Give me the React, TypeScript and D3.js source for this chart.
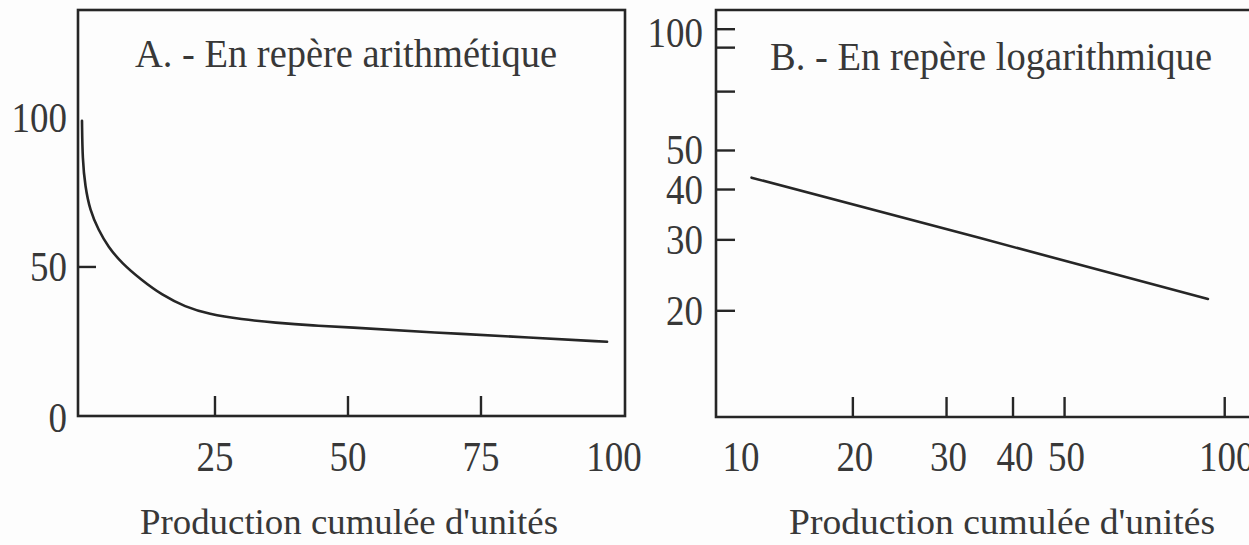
import React from 'react';
import * as d3 from 'd3';

const W = 1249;
const H = 545;

// ---- Panel A (arithmetic scale) ----
const curveAX = [0, 0.1, 0.6, 1.5, 3.1, 4.9, 7.5, 11.2, 15, 19.4, 23.8, 30, 36.2, 43.8, 49.1, 66, 84.8, 98.7];
const curveAY = [99, 86, 77, 69, 62.4, 56.8, 51.2, 45.6, 40.6, 36.6, 34.2, 32.4, 31.3, 30.3, 29.9, 28, 26.3, 24.9];
const xTicksA = [25, 50, 75];
const xLabelsA = [25, 50, 75, 100];
const yTicksA = [50];
const yLabelsA = [0, 50, 100];
const titleA = 'A. - En repère arithmétique';

// ---- Panel B (logarithmic scale) ----
const curveBX = [12.9, 34.7, 93];
const curveBY = [42.8, 30.3, 21.4];
const xTicksB = [20, 30, 40, 50, 100];
const xOriginLabelB = '10';
const yTicksB = [100, 90, 70, 50, 40, 30, 20];
const yLabelsB = [100, 50, 40, 30, 20];
const titleB = 'B. - En repère logarithmique';

const xTitle = "Production cumulée d'unités";

const FONT = '"Liberation Serif", "DejaVu Serif", serif';
const INK = '#262626';
const TXT = '#383838';

export default function App() {
  // Panel A scales
  const xA = d3.scaleLinear().domain([-0.75, 102.07]).range([78, 625]);
  const yA = d3.scaleLinear().domain([0, 136.2]).range([416, 10]);
  // Panel B scales
  const xB = d3.scaleLog().domain([11.06, 116.5]).range([716, 1260]);
  const yB = d3.scaleLog().domain([10.9, 111.6]).range([417, 10]);

  const ptsA = curveAX.map((x, i) => [x, curveAY[i]] as [number, number]);
  const ptsB = curveBX.map((x, i) => [x, curveBY[i]] as [number, number]);

  const lineA = d3.line<[number, number]>()
    .x(d => xA(d[0]))
    .y(d => yA(d[1]))
    .curve(d3.curveBasis);
  const lineB = d3.line<[number, number]>()
    .x(d => xB(d[0]))
    .y(d => yB(d[1]));

  const [ax0, ax1] = xA.range();
  const [ay0, ay1] = yA.range();
  const [bx0, bx1] = xB.range();
  const [by0, by1] = yB.range();

  const tickLen = 20;
  const labelStyle = { fontFamily: FONT, fontSize: 43, fill: TXT } as const;
  const sx = 0.86;

  return (
    <svg width={W} height={H} style={{ position: 'absolute', left: 0, top: 0, background: '#fdfdfd' }}>
      <rect x={0} y={0} width={W} height={H} fill="#fdfdfd" />

      {/* Panel A frame */}
      <rect x={ax0} y={ay1} width={ax1 - ax0} height={ay0 - ay1} fill="none" stroke={INK} strokeWidth={2.6} />
      {xTicksA.map(t => (
        <line key={'xa' + t} x1={xA(t)} x2={xA(t)} y1={ay0} y2={ay0 - tickLen} stroke={INK} strokeWidth={2.4} />
      ))}
      {yTicksA.map(t => (
        <line key={'ya' + t} x1={ax0} x2={ax0 + 18} y1={yA(t)} y2={yA(t)} stroke={INK} strokeWidth={2.4} />
      ))}
      {xLabelsA.map(t => (
        <text key={'xla' + t} transform={`translate(${xA(t)},${ay0 + 55}) scale(${sx},1)`} textAnchor="middle" style={labelStyle}>{t}</text>
      ))}
      {yLabelsA.map(t => (
        <text key={'yla' + t} transform={`translate(${ax0 - 11},${yA(t) + 14 + (t === 0 ? 2 : 0)}) scale(${sx},1)`} textAnchor="end" style={labelStyle}>{t}</text>
      ))}
      <path d={lineA(ptsA) || ''} fill="none" stroke={INK} strokeWidth={2.6} strokeLinejoin="round" strokeLinecap="round" />
      <text x={135} y={67} textLength={422} lengthAdjust="spacingAndGlyphs" style={{ fontFamily: FONT, fontSize: 40, fill: TXT }}>{titleA}</text>
      <text x={140} y={534} textLength={418} lengthAdjust="spacingAndGlyphs" style={{ fontFamily: FONT, fontSize: 36, fill: TXT }}>{xTitle}</text>

      {/* Panel B frame (open on the right, beyond the page) */}
      <path d={`M${bx1},${by1} L${bx0},${by1} L${bx0},${by0} L${bx1},${by0}`} fill="none" stroke={INK} strokeWidth={2.6} />
      {xTicksB.map(t => (
        <line key={'xb' + t} x1={xB(t)} x2={xB(t)} y1={by0} y2={by0 - tickLen} stroke={INK} strokeWidth={2.4} />
      ))}
      {yTicksB.map(t => (
        <line key={'yb' + t} x1={bx0} x2={bx0 + 19} y1={yB(t)} y2={yB(t)} stroke={INK} strokeWidth={2.4} />
      ))}
      {xTicksB.map(t => (
        <text key={'xlb' + t} transform={`translate(${xB(t) + 2},${by0 + 54}) scale(${sx},1)`} textAnchor="middle" style={labelStyle}>{t}</text>
      ))}
      <text transform={`translate(${bx0 + 25},${by0 + 54}) scale(${sx},1)`} textAnchor="middle" style={labelStyle}>{xOriginLabelB}</text>
      {yLabelsB.map(t => (
        <text key={'ylb' + t} transform={`translate(${bx0 - 13},${yB(t) + 14 + (t === 100 ? 4 : 0)}) scale(${sx},1)`} textAnchor="end" style={labelStyle}>{t}</text>
      ))}
      <path d={lineB(ptsB) || ''} fill="none" stroke={INK} strokeWidth={2.6} strokeLinecap="round" />
      <text x={770} y={70} textLength={442} lengthAdjust="spacingAndGlyphs" style={{ fontFamily: FONT, fontSize: 39, fill: TXT }}>{titleB}</text>
      <text x={789} y={534} textLength={426} lengthAdjust="spacingAndGlyphs" style={{ fontFamily: FONT, fontSize: 36, fill: TXT }}>{xTitle}</text>
    </svg>
  );
}
